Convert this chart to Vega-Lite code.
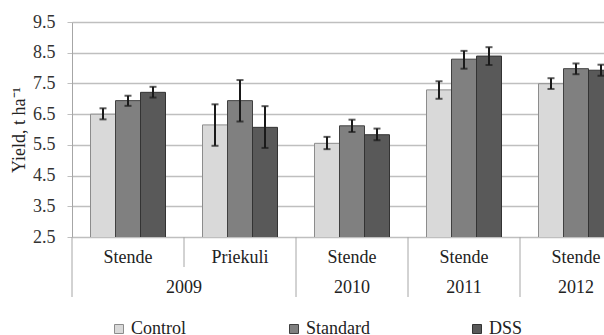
{
  "$schema": "https://vega.github.io/schema/vega-lite/v6.json",
  "padding": {"left": 10, "top": 13, "right": 0, "bottom": 0},
  "config": {
    "view": {"stroke": null},
    "font": "Liberation Serif",
    "axis": {"labelFont": "Liberation Serif", "titleFont": "Liberation Serif", "labelOverlap": false},
    "legend": {"labelFont": "Liberation Serif", "titleFont": "Liberation Serif"},
    "text": {"font": "Liberation Serif"}
  },
  "datasets": {
    "yield": [
      {"group": "2009 Stende", "treat": "Control", "value": 6.50, "lo": 6.33, "hi": 6.69},
      {"group": "2009 Stende", "treat": "Standard", "value": 6.94, "lo": 6.77, "hi": 7.10},
      {"group": "2009 Stende", "treat": "DSS", "value": 7.21, "lo": 7.04, "hi": 7.39},
      {"group": "2009 Priekuli", "treat": "Control", "value": 6.15, "lo": 5.47, "hi": 6.82},
      {"group": "2009 Priekuli", "treat": "Standard", "value": 6.94, "lo": 6.26, "hi": 7.61},
      {"group": "2009 Priekuli", "treat": "DSS", "value": 6.07, "lo": 5.40, "hi": 6.76},
      {"group": "2010 Stende", "treat": "Control", "value": 5.55, "lo": 5.36, "hi": 5.76},
      {"group": "2010 Stende", "treat": "Standard", "value": 6.12, "lo": 5.92, "hi": 6.32},
      {"group": "2010 Stende", "treat": "DSS", "value": 5.83, "lo": 5.65, "hi": 6.03},
      {"group": "2011 Stende", "treat": "Control", "value": 7.29, "lo": 7.00, "hi": 7.57},
      {"group": "2011 Stende", "treat": "Standard", "value": 8.29, "lo": 7.98, "hi": 8.56},
      {"group": "2011 Stende", "treat": "DSS", "value": 8.39, "lo": 8.10, "hi": 8.68},
      {"group": "2012 Stende", "treat": "Control", "value": 7.49, "lo": 7.32, "hi": 7.67},
      {"group": "2012 Stende", "treat": "Standard", "value": 7.98, "lo": 7.80, "hi": 8.15},
      {"group": "2012 Stende", "treat": "DSS", "value": 7.93, "lo": 7.75, "hi": 8.11}
    ],
    "groups": [
      {"group": "2009 Stende", "site": "Stende", "year": "2009"},
      {"group": "2009 Priekuli", "site": "Priekuli", "year": "2009"},
      {"group": "2010 Stende", "site": "Stende", "year": "2010"},
      {"group": "2011 Stende", "site": "Stende", "year": "2011"},
      {"group": "2012 Stende", "site": "Stende", "year": "2012"}
    ]
  },
  "spacing": 0,
  "bounds": "flush",
  "vconcat": [
    {
      "width": 532,
      "height": 215,
      "data": {"name": "yield"},
      "encoding": {
        "x": {"field": "group", "type": "nominal", "axis": null,
              "scale": {"domain": ["2009 Stende", "2009 Priekuli", "2010 Stende", "2011 Stende", "2012 Stende"], "range": [0, 560], "paddingInner": 0, "paddingOuter": 0}},
        "xOffset": {"field": "treat", "type": "nominal",
              "scale": {"domain": ["Control", "Standard", "DSS"], "paddingInner": 0, "paddingOuter": 0.74}}
      },
      "layer": [
        {
          "mark": {"type": "bar", "clip": true, "strokeWidth": 1},
          "encoding": {
            "y": {"field": "value", "type": "quantitative", "title": "Yield, t ha⁻¹",
                  "scale": {"domain": [2.5, 9.5], "nice": false, "zero": false},
                  "axis": {"values": [2.5, 3.5, 4.5, 5.5, 6.5, 7.5, 8.5, 9.5], "format": ".1f", "labelOverlap": false,
                           "labelFont": "Liberation Serif", "titleFont": "Liberation Serif",
                           "labelFontSize": 18, "labelColor": "#333333", "labelPadding": 12,
                           "tickSize": 5, "tickColor": "#bfbfbf", "grid": true, "gridColor": "#bfbfbf", "gridWidth": 1.5,
                           "domainColor": "#a6a6a6", "titleFontSize": 18, "titleFontWeight": "normal",
                           "titleColor": "#222222", "titlePadding": 4}},
            "fill": {"field": "treat", "type": "nominal",
                     "scale": {"domain": ["Control", "Standard", "DSS"], "range": ["#d9d9d9", "#808080", "#595959"]},
                     "legend": {"orient": "none", "legendX": 38, "legendY": 298, "direction": "horizontal", "title": null,
                                "symbolType": "square", "symbolSize": 81, "symbolStrokeColor": "#555555", "symbolStrokeWidth": 1,
                                "labelFontSize": 18, "labelFont": "Liberation Serif", "labelColor": "#222222",
                                "columnPadding": 98, "labelOffset": 3, "padding": 0}},
            "stroke": {"field": "treat", "type": "nominal",
                       "scale": {"domain": ["Control", "Standard", "DSS"], "range": ["#8c8c8c", "#404040", "#333333"]},
                       "legend": null}
          }
        },
        {
          "mark": {"type": "rule", "clip": true, "strokeWidth": 2, "color": "#1a1a1a"},
          "encoding": {"y": {"field": "lo", "type": "quantitative", "title": "Yield, t ha⁻¹",
                  "axis": {"values": [2.5, 3.5, 4.5, 5.5, 6.5, 7.5, 8.5, 9.5], "format": ".1f", "labelOverlap": false,
                           "labelFont": "Liberation Serif", "titleFont": "Liberation Serif",
                           "labelFontSize": 18, "labelColor": "#333333", "labelPadding": 12,
                           "tickSize": 5, "tickColor": "#bfbfbf", "grid": true, "gridColor": "#bfbfbf", "gridWidth": 1.5,
                           "domainColor": "#a6a6a6", "titleFontSize": 18, "titleFontWeight": "normal",
                           "titleColor": "#222222", "titlePadding": 4}}, "y2": {"field": "hi"}}
        },
        {
          "mark": {"type": "tick", "clip": true, "size": 7, "thickness": 2, "color": "#1a1a1a", "orient": "horizontal"},
          "encoding": {"y": {"field": "lo", "type": "quantitative", "title": "Yield, t ha⁻¹",
                  "axis": {"values": [2.5, 3.5, 4.5, 5.5, 6.5, 7.5, 8.5, 9.5], "format": ".1f", "labelOverlap": false,
                           "labelFont": "Liberation Serif", "titleFont": "Liberation Serif",
                           "labelFontSize": 18, "labelColor": "#333333", "labelPadding": 12,
                           "tickSize": 5, "tickColor": "#bfbfbf", "grid": true, "gridColor": "#bfbfbf", "gridWidth": 1.5,
                           "domainColor": "#a6a6a6", "titleFontSize": 18, "titleFontWeight": "normal",
                           "titleColor": "#222222", "titlePadding": 4}}}
        },
        {
          "mark": {"type": "tick", "clip": true, "size": 7, "thickness": 2, "color": "#1a1a1a", "orient": "horizontal"},
          "encoding": {"y": {"field": "hi", "type": "quantitative", "title": "Yield, t ha⁻¹",
                  "axis": {"values": [2.5, 3.5, 4.5, 5.5, 6.5, 7.5, 8.5, 9.5], "format": ".1f", "labelOverlap": false,
                           "labelFont": "Liberation Serif", "titleFont": "Liberation Serif",
                           "labelFontSize": 18, "labelColor": "#333333", "labelPadding": 12,
                           "tickSize": 5, "tickColor": "#bfbfbf", "grid": true, "gridColor": "#bfbfbf", "gridWidth": 1.5,
                           "domainColor": "#a6a6a6", "titleFontSize": 18, "titleFontWeight": "normal",
                           "titleColor": "#222222", "titlePadding": 4}}}
        }
      ]
    },
    {
      "width": 532,
      "height": 30,
      "data": {"name": "groups"},
      "layer": [
        {
          "mark": {"type": "rule", "color": "#a6a6a6", "strokeWidth": 1},
          "encoding": {"x": {"field": "group", "type": "nominal", "bandPosition": 0, "axis": null,
                             "scale": {"domain": ["2009 Stende", "2009 Priekuli", "2010 Stende", "2011 Stende", "2012 Stende"], "range": [0, 560], "paddingInner": 0, "paddingOuter": 0}}}
        },
        {
          "mark": {"type": "text", "fontSize": 18, "dy": 6, "color": "#222222", "font": "Liberation Serif"},
          "encoding": {"x": {"field": "group", "type": "nominal", "axis": null}, "text": {"field": "site"}}
        }
      ]
    },
    {
      "width": 532,
      "height": 30,
      "data": {"name": "groups"},
      "layer": [
        {
          "transform": [{"filter": "datum.site !== 'Priekuli'"}],
          "mark": {"type": "rule", "color": "#a6a6a6", "strokeWidth": 1},
          "encoding": {"x": {"field": "group", "type": "nominal", "bandPosition": 0, "axis": null,
                             "scale": {"domain": ["2009 Stende", "2009 Priekuli", "2010 Stende", "2011 Stende", "2012 Stende"], "range": [0, 560], "paddingInner": 0, "paddingOuter": 0}}}
        },
        {
          "transform": [{"filter": "datum.site === 'Priekuli'"}],
          "mark": {"type": "text", "fontSize": 18, "dy": 6, "color": "#222222", "font": "Liberation Serif"},
          "encoding": {"x": {"field": "group", "type": "nominal", "bandPosition": 0, "axis": null}, "text": {"field": "year"}}
        },
        {
          "transform": [{"filter": "datum.year !== '2009'"}],
          "mark": {"type": "text", "fontSize": 18, "dy": 6, "color": "#222222", "font": "Liberation Serif"},
          "encoding": {"x": {"field": "group", "type": "nominal", "axis": null}, "text": {"field": "year"}}
        }
      ]
    }
  ]
}
